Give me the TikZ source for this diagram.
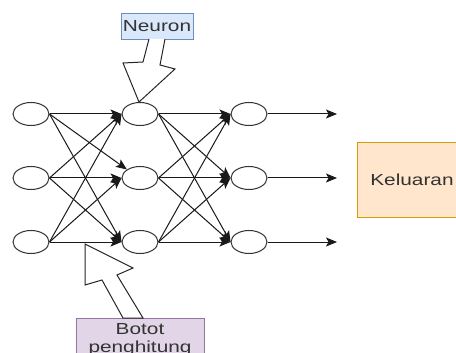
\documentclass[tikz,border=0pt]{standalone}
\usepackage{fontspec}
\setmainfont[FakeStretch=1.3]{Liberation Sans}
\usetikzlibrary{arrows.meta,shapes.geometric}
\definecolor{blueF}{HTML}{DAE8FC}
\definecolor{blueD}{HTML}{6C8EBF}
\definecolor{orF}{HTML}{FFE6CC}
\definecolor{orD}{HTML}{D79B00}
\definecolor{puF}{HTML}{E1D5E7}
\definecolor{puD}{HTML}{9673A6}
\definecolor{txt}{HTML}{333333}
\begin{document}
\begin{tikzpicture}[x=1pt,y=-1pt,
  font=\fontsize{16}{18}\selectfont,
  neu/.style={ellipse,draw=black!80,line width=1pt,fill=white,minimum width=36pt,minimum height=23pt,inner sep=0pt},
  conn/.style={draw=black!90,line width=1pt,-{Stealth[length=11pt,width=9pt,inset=2.5pt]}},
  boxlbl/.style={draw,line width=0.8pt,inner sep=0pt,text=txt,align=center},
  blockarrow/.style={draw=black!85,line width=1pt,fill=white,line join=miter}
]
\clip (0,0) rectangle (456,353);
\fill[white] (0,0) rectangle (456,353);
% neurons
\node[neu] (a1) at (31,114) {};
\node[neu] (a2) at (31,178) {};
\node[neu] (a3) at (31,242) {};
\node[neu] (b1) at (140,114) {};
\node[neu] (b2) at (140,178) {};
\node[neu] (b3) at (140,242) {};
\node[neu] (c1) at (249,114) {};
\node[neu] (c2) at (249,178) {};
\node[neu] (c3) at (249,242) {};
\coordinate (o1) at (337,114);
\coordinate (o2) at (337,178);
\coordinate (o3) at (337,242);
% layer 1 -> 2
\draw[conn] (a1.east) -- (b1.west);
\draw[conn] (a1.east) -- (b2.north west);
\draw[conn] (a1.east) -- (b3.west);
\draw[conn] (a2.east) -- (b1.west);
\draw[conn] (a2.east) -- (b2.west);
\draw[conn] (a2.east) -- (b3.west);
\draw[conn] (a3.east) -- (b1.west);
\draw[conn] (a3.east) -- (b2.west);
\draw[conn] (a3.east) -- (b3.west);
% layer 2 -> 3
\foreach \i in {1,2,3}{
  \foreach \j in {1,2,3}{
    \draw[conn] (b\i.east) -- (c\j.west);
  }
}
% outputs
\foreach \i in {1,2,3}{
  \draw[conn] (c\i.east) -- (o\i);
}
% labels
\node[boxlbl,draw=blueD,fill=blueF,minimum width=72pt,minimum height=26pt] (neuron) at (157,26) {Neuron};
\node[boxlbl,draw=orD,fill=orF,minimum width=110pt,minimum height=75pt] (out) at (412,179.5) {Keluaran};
\node[boxlbl,draw=puD,fill=puF,minimum width=128pt,minimum height=43pt] (botot) at (140,339.5) {Botot\\penghitung};
% block arrows
\draw[blockarrow] (149,39) -- (143,62) -- (123,63) -- (139,102) -- (175,69) -- (160,65) -- (165,39);
\draw[blockarrow] (85,244) -- (85,285) -- (102,280) -- (123,318) -- (143,318) -- (117,275) -- (133,268) -- cycle;
\end{tikzpicture}
\end{document}
